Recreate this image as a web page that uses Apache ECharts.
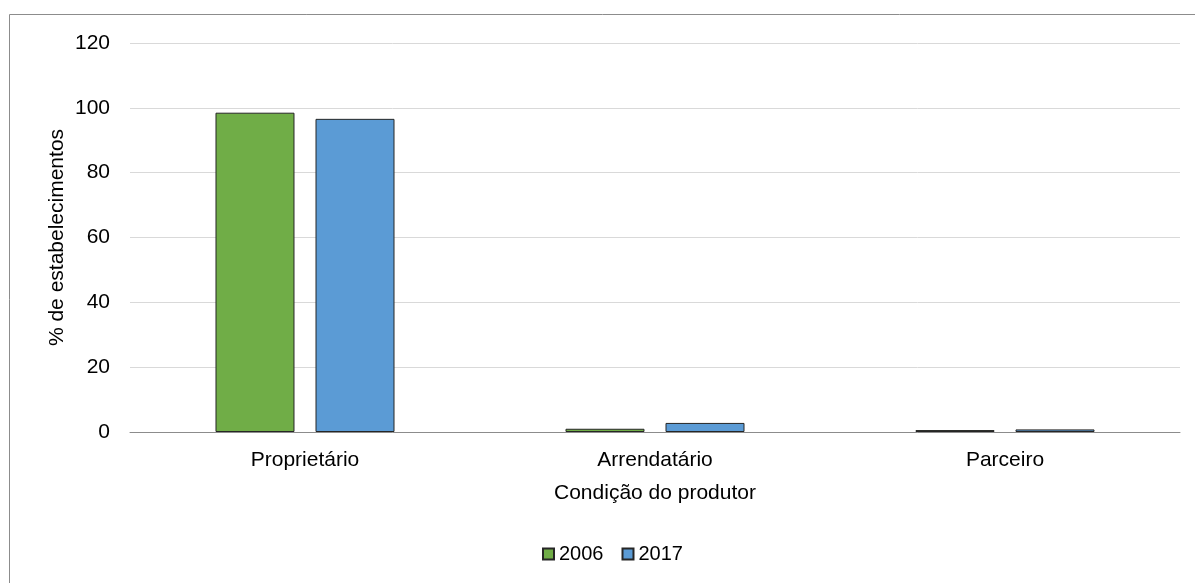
<!DOCTYPE html>
<html>
<head>
<meta charset="utf-8">
<script src="https://cdn.jsdelivr.net/npm/echarts@6/dist/echarts.min.js"></script>
<style>
  html, body { margin: 0; padding: 0; background: #fff; }
  #chart { width: 1195px; height: 583px; }
</style>
</head>
<body>
<div id="chart"></div>
<script>
// Condição do produtor — share of establishments, 2006 vs 2017
const categories = ['Proprietário', 'Arrendatário', 'Parceiro'];
const values2006 = [98.5, 1.0, 0.6];
const values2017 = [96.6, 2.8, 0.8];
const yTicks = { min: 0, max: 120, interval: 20 };

const chart = echarts.init(document.getElementById('chart'));
const font = 'Liberation Sans, Arial, sans-serif';

chart.setOption({
  animation: false,
  graphic: [{
    type: 'rect',
    shape: { x: 9.5, y: 14.5, width: 1200, height: 600 },
    style: { fill: 'none', stroke: '#8c8c8c', lineWidth: 1 },
    silent: true
  }],
  legend: {
    top: 539,
    left: 537,
    itemWidth: 11,
    itemHeight: 11,
    itemGap: 18,
    icon: 'rect',
    textStyle: { fontFamily: font, fontSize: 20, color: '#000' },
    data: ['2006', '2017']
  },
  grid: { left: 130, right: 15, top: 43, bottom: 151 },
  xAxis: {
    type: 'category',
    data: categories,
    name: 'Condição do produtor',
    nameLocation: 'middle',
    nameGap: 51,
    nameTextStyle: { fontFamily: font, fontSize: 21, color: '#000' },
    axisLine: { lineStyle: { color: '#8c8c8c', width: 1 } },
    axisTick: { show: false },
    axisLabel: { fontFamily: font, fontSize: 21, color: '#000', margin: 18 }
  },
  yAxis: {
    type: 'value',
    min: yTicks.min,
    max: yTicks.max,
    interval: yTicks.interval,
    name: '% de estabelecimentos',
    nameLocation: 'middle',
    nameGap: 62,
    nameMoveOverlap: false,
    nameTextStyle: { fontFamily: font, fontSize: 21, color: '#000' },
    axisLine: { show: false },
    axisTick: { show: false },
    axisLabel: { fontFamily: font, fontSize: 21, color: '#000', margin: 20 },
    splitLine: { lineStyle: { color: '#d9d9d9', width: 1 } }
  },
  series: [
    {
      name: '2006',
      type: 'bar',
      data: values2006,
      barWidth: 79,
      barGap: '26.6%',
      itemStyle: { color: '#70ad47', borderColor: '#262626', borderWidth: 1 }
    },
    {
      name: '2017',
      type: 'bar',
      data: values2017,
      barWidth: 79,
      barGap: '26.6%',
      itemStyle: { color: '#5b9bd5', borderColor: '#262626', borderWidth: 1 }
    }
  ]
});
</script>
</body>
</html>
